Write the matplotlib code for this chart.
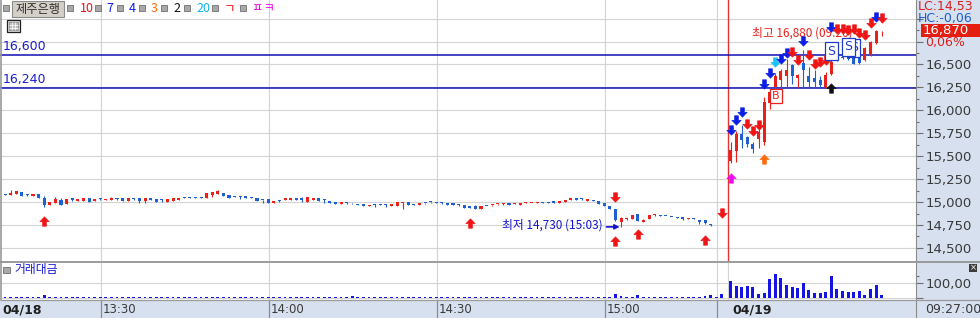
import numpy as np
import matplotlib.pyplot as plt
from matplotlib.path import Path
from matplotlib.patches import Rectangle
from matplotlib import font_manager
import matplotlib.transforms as mtransforms

# --- data (prices in won) ---

# 04/18, one-minute candles 13:13 .. 15:19, then the closing prints
d1_open = [15090, 15080, 15090, 15110, 15080, 15070, 15090, 15050, 14970, 14990,
           15020, 14980, 15040, 15010, 15010, 15040, 15010, 15030, 15020, 15020,
           15035, 15040, 15010, 15035, 15040, 15010, 15040, 15030, 15025, 15000,
           15010, 15020, 15045, 15055, 15060, 15050, 15040, 15080, 15090, 15100,
           15080, 15070, 15060, 15070, 15055, 15050, 15020, 15030, 14985, 15015,
           15020, 15020, 15050, 15050, 15005, 15020, 15040, 15030, 15015, 15005,
           14980, 14995, 14990, 14980, 14975, 14955, 14970, 14980, 14975, 14955,
           14960, 14990, 15005, 14980, 14970, 14990, 15000, 15000, 14995, 14990,
           14985, 14975, 14965, 14955, 14960, 14930, 14955, 14965, 14975, 14975,
           14985, 14980, 14970, 14995, 14990, 14985, 15000, 14995, 15010, 14995,
           15000, 15025, 15045, 15035, 15010, 15020, 15010, 14990, 14955, 14920,
           14780, 14815, 14820, 14870, 14780, 14820, 14860, 14855, 14850, 14840,
           14835, 14835, 14820, 14825, 14810, 14800, 14760, 14745, 14745]
d1_high = [15090, 15130, 15120, 15110, 15085, 15090, 15090, 15070, 15000, 15060,
           15040, 15030, 15040, 15030, 15040, 15040, 15030, 15045, 15030, 15055,
           15045, 15040, 15040, 15040, 15040, 15040, 15040, 15030, 15030, 15030,
           15040, 15050, 15060, 15060, 15060, 15060, 15100, 15110, 15130, 15100,
           15080, 15070, 15065, 15070, 15060, 15050, 15025, 15030, 15010, 15020,
           15045, 15040, 15050, 15060, 15060, 15050, 15040, 15035, 15015, 15005,
           15000, 15000, 14995, 14980, 14975, 14970, 14980, 14980, 14980, 14980,
           15005, 15005, 15005, 14980, 14990, 14995, 15000, 15000, 15000, 14990,
           14985, 14980, 14965, 14955, 14965, 14960, 14955, 14970, 14980, 14985,
           14985, 14985, 14990, 15000, 14995, 15000, 15000, 15000, 15010, 15010,
           15025, 15045, 15050, 15040, 15030, 15020, 15010, 14990, 14955, 14925,
           14840, 14830, 14860, 14870, 14815, 14855, 14875, 14860, 14852, 14842,
           14837, 14835, 14830, 14825, 14810, 14810, 14765, 14745, 14745]
d1_low = [15080, 15080, 15090, 15070, 15065, 15070, 15040, 14950, 14970, 14990,
          14970, 14980, 15010, 15010, 15010, 15000, 15010, 15025, 15020, 15020,
          15025, 15010, 15010, 15020, 14990, 14990, 15025, 15000, 15000, 15000,
          15010, 15020, 15040, 15040, 15040, 15045, 15040, 15060, 15090, 15070,
          15050, 15055, 15030, 15040, 15040, 15010, 14990, 14985, 14985, 15005,
          15020, 15020, 15020, 15000, 15005, 15020, 15010, 14995, 14995, 14975,
          14980, 14980, 14975, 14965, 14955, 14955, 14950, 14965, 14950, 14955,
          14960, 14930, 14965, 14965, 14970, 14980, 14985, 14985, 14980, 14965,
          14965, 14960, 14935, 14935, 14925, 14930, 14955, 14955, 14970, 14970,
          14965, 14975, 14970, 14990, 14985, 14985, 14985, 14990, 14990, 14995,
          15000, 15025, 15020, 15020, 15010, 15010, 14975, 14960, 14920, 14790,
          14730, 14800, 14820, 14790, 14780, 14820, 14845, 14850, 14845, 14835,
          14830, 14800, 14820, 14818, 14760, 14760, 14740, 14745, 14745]
d1_close = [15080, 15100, 15120, 15070, 15075, 15090, 15050, 14970, 15000, 15030,
            14970, 15030, 15020, 15030, 15040, 15000, 15030, 15030, 15030, 15040,
            15035, 15010, 15040, 15030, 15010, 15040, 15025, 15000, 15020, 15030,
            15040, 15050, 15045, 15050, 15040, 15050, 15100, 15110, 15120, 15070,
            15050, 15055, 15060, 15040, 15050, 15010, 15020, 14985, 15010, 15015,
            15045, 15040, 15020, 15020, 15060, 15050, 15010, 15025, 14995, 14975,
            15000, 14995, 14985, 14965, 14955, 14970, 14970, 14965, 14970, 14980,
            15005, 15005, 14965, 14965, 14990, 14990, 15000, 14985, 14990, 14965,
            14965, 14970, 14935, 14935, 14930, 14960, 14955, 14968, 14978, 14978,
            14965, 14983, 14990, 14998, 14993, 15000, 14985, 14993, 14990, 15010,
            15025, 15045, 15020, 15030, 15030, 15010, 14975, 14960, 14920, 14810,
            14830, 14820, 14855, 14795, 14810, 14855, 14865, 14850, 14847, 14837,
            14832, 14820, 14830, 14820, 14780, 14770, 14750, 14745, 14745]

# 04/19, one-minute candles 09:00 .. 09:27
d2_open = [15450, 15560, 15745, 15710, 15630, 15685, 15655, 16080, 16250, 16330,
           16370, 16490, 16350, 16520, 16370, 16350, 16330, 16250, 16400, 16600,
           16585, 16605, 16600, 16600, 16550, 16600, 16730, 16860]
d2_high = [15650, 15770, 15840, 15720, 15650, 15800, 16150, 16220, 16410, 16450,
           16560, 16510, 16400, 16660, 16470, 16440, 16370, 16420, 16660, 16620,
           16600, 16620, 16610, 16610, 16690, 16760, 16880, 16870]
d2_low = [15430, 15440, 15590, 15600, 15540, 15590, 15625, 16010, 16230, 16230,
          16250, 16290, 16260, 16260, 16240, 16250, 16240, 16240, 16390, 16540,
          16560, 16550, 16500, 16500, 16540, 16590, 16720, 16810]
d2_close = [15570, 15745, 15675, 15630, 15575, 15760, 16095, 16200, 16370, 16430,
            16440, 16370, 16385, 16440, 16310, 16310, 16280, 16390, 16530, 16560,
            16570, 16560, 16510, 16515, 16675, 16750, 16870, 16870]

# trading value (거래대금), panel units
d1_vol = [6, 6, 6, 6, 6, 6, 6, 20, 6, 6, 6, 6, 6, 6, 6, 6, 6, 6, 6, 6,
          6, 6, 6, 6, 6, 6, 6, 6, 6, 6, 6, 6, 6, 6, 6, 6, 6, 6, 6, 6,
          6, 6, 6, 6, 6, 6, 6, 6, 6, 6, 6, 6, 6, 6, 6, 6, 6, 6, 6, 6,
          6, 6, 13, 6, 6, 6, 6, 6, 6, 6, 6, 6, 6, 6, 6, 6, 6, 6, 6, 6,
          6, 6, 6, 6, 6, 6, 6, 6, 6, 6, 6, 6, 6, 6, 6, 6, 6, 6, 6, 6,
          6, 6, 6, 6, 6, 6, 6, 6, 6, 27, 13, 6, 6, 20, 6, 6, 6, 6, 6, 6,
          6, 6, 6, 6, 6, 13, 20, 6, 27]
d2_vol = [117, 82, 77, 82, 77, 29, 37, 129, 162, 133, 89, 73, 67, 100, 55, 37,
          33, 40, 149, 60, 49, 44, 44, 49, 22, 60, 89, 22]

# horizontal reference lines
ref_levels = [16600, 16240]

# signal arrows: global candle index (day 2 starts at 129), price at arrow centre
sig_bar = [7, 83, 109, 109, 113, 125, 128,
           129, 129, 130, 131, 132, 133, 134, 135, 135, 136, 137, 138, 139,
           140, 141, 142, 143, 144, 145, 146, 147, 147, 148, 149, 150, 151,
           152, 153, 154, 155, 156]
sig_price = [14794, 14767, 15056, 14576, 14647, 14592, 14881,
             15268, 15786, 15895, 15977, 15851, 15775, 15840, 15470, 16287,
             16407, 16527, 16565, 16625, 16631, 16549, 16751, 16604, 16505,
             16522, 16544, 16909, 16249, 16887, 16887, 16876, 16887, 16843,
             16822, 16947, 17023, 17012]
sig_dir = ['up', 'up', 'down', 'up', 'up', 'up', 'down',
           'up', 'down', 'down', 'down', 'down', 'down', 'down', 'up', 'down',
           'down', 'down', 'down', 'down', 'down', 'down', 'down', 'down',
           'down', 'down', 'down', 'down', 'up', 'down', 'down', 'down', 'down',
           'down', 'down', 'down', 'down', 'down']
sig_color = ['red', 'red', 'red', 'red', 'red', 'red', 'red',
             'magenta', 'blue', 'blue', 'blue', 'red', 'red', 'red', 'orange',
             'blue', 'blue', 'cyan', 'blue', 'blue', 'red', 'red', 'blue', 'red',
             'red', 'red', 'red', 'blue', 'black', 'red', 'red', 'red', 'red',
             'red', 'red', 'red', 'blue', 'red']

# "S" (sell) and "B" (buy) flags
s_bar = [151, 150, 147]
s_price = [16680, 16691, 16647]
b_bar = [136]
b_price = [16157]

time_ticks = [18, 48, 78, 108]
time_labels = ['13:30', '14:00', '14:30', '15:00']
close_tick = 128     # 15:20 on 04/18
day2_start = 130     # 09:00 on 04/19

# --- style ---
RED = '#E8221A'
BLUE = '#1E5FD2'
ARROW_COLORS = {'red': '#F01414', 'blue': '#0A1EE6', 'cyan': '#19C3F5',
                'magenta': '#F00AF0', 'orange': '#FF6A0A', 'black': '#101010'}
GRID = '#D4D4D4'
AXIS_BG = '#D6E0EE'
LINE_BLUE = '#1010B4'

plt.rcParams['font.family'] = ['Noto Sans CJK KR', 'DejaVu Sans']
available = {f.name for f in font_manager.fontManager.ttflist}
NUM_FONT = 'Liberation Sans Narrow' if 'Liberation Sans Narrow' in available else 'DejaVu Sans'

W, H = 980, 318
PX = 5.6  # pixels per minute


def rect(x0, y0, x1, y1):
    return [x0 / W, 1 - y1 / H, (x1 - x0) / W, (y1 - y0) / H]


fig = plt.figure(figsize=(W / 100, H / 100), dpi=100)
fig.patch.set_facecolor(AXIS_BG)

pos1 = np.arange(1, len(d1_open) + 1) - 0.1
pos2 = np.arange(len(d2_open)) + day2_start + 0.45
pos_all = np.concatenate([pos1, pos2])
xmax = 916 / PX

# --- price panel ---
ax = fig.add_axes(rect(0, 0, 916, 262))
ax.set_facecolor('white')
ax.set_xlim(0, xmax)
ax.set_ylim(14347, 17203)
for s in ['top', 'bottom', 'left']:
    ax.spines[s].set_visible(False)
ax.spines['right'].set_color('#8C8C8C')

major = np.arange(14500, 17001, 250)
ax.yaxis.tick_right()
ax.set_yticks(major)
ax.set_yticklabels([f'{v:,}' if v <= 16500 else '' for v in major])
ax.set_yticks(major[:-1] + 125, minor=True)
ax.tick_params(axis='y', which='major', length=5, width=0.8, color='#707070',
               pad=2, labelsize=9.5, labelcolor='#3A3A3A')
ax.tick_params(axis='y', which='minor', length=2.5, width=0.8, color='#707070')
for lab in ax.get_yticklabels():
    lab.set_family(NUM_FONT)
ax.set_xticks(time_ticks + [close_tick])
ax.tick_params(axis='x', length=0, labelbottom=False)
ax.grid(True, color=GRID, lw=0.8)
ax.set_axisbelow(True)
ax.axvline(day2_start, color='#E83030', lw=1.0, zorder=2)


def candles(a, pos, o, h, l, c, width=0.55):
    o, h, l, c = (np.asarray(v, float) for v in (o, h, l, c))
    col = np.where(c > o, RED, BLUE)
    a.vlines(pos, l, h, colors=col, lw=0.8, zorder=3)
    a.bar(pos, np.maximum(np.abs(c - o), 10), bottom=np.minimum(o, c),
          width=width, color=col, lw=0, zorder=3)


candles(ax, pos1, d1_open, d1_high, d1_low, d1_close)
candles(ax, pos2, d2_open, d2_high, d2_low, d2_close)

for lv in ref_levels:
    ax.axhline(lv, color=LINE_BLUE, lw=1.1, zorder=2)
    ax.annotate(f'{lv:,}', xy=(0, lv), xycoords=('axes fraction', 'data'),
                xytext=(2.2, 3.6), textcoords='offset points', ha='left',
                va='baseline', fontsize=9, color='#1C1CD0', family=NUM_FONT)

# signal arrows
down_verts = [(-0.42, 1), (0.42, 1), (0.42, 0.05), (1, 0.05), (0, -1),
              (-1, 0.05), (-0.42, 0.05), (-0.42, 1)]
ARROWS = {'down': Path(down_verts, closed=True),
          'up': Path([(x, -y) for x, y in down_verts], closed=True)}
for b, p, d, c in zip(sig_bar, sig_price, sig_dir, sig_color):
    ax.plot(pos_all[b], p, marker=ARROWS[d], ms=6.8, color=ARROW_COLORS[c],
            mec=ARROW_COLORS[c], mew=0.4, ls='none', zorder=6)

# flags
for b, p in zip(s_bar, s_price):
    ax.plot(pos_all[b], p - 78, marker='v', ms=5, mfc='white', mec='#1E3CC8',
            mew=0.8, ls='none', zorder=7)
    ax.text(pos_all[b], p, 'S', ha='center', va='center', fontsize=9,
            color='#1E3CC8', family='DejaVu Sans', zorder=8,
            bbox=dict(boxstyle='square,pad=0.2', fc='white', ec='#1E3CC8', lw=0.9))
for b, p in zip(b_bar, b_price):
    ax.annotate('B', xy=(pos_all[b], p), xytext=(1.5, 0), textcoords='offset points',
                ha='left', va='center', fontsize=8, color=RED, family='DejaVu Sans',
                zorder=8, bbox=dict(boxstyle='square,pad=0.2', fc='white', ec=RED, lw=0.9))

# day low / high labels
lo_i = int(np.argmin(d1_low))
lo = d1_low[lo_i]
ax.annotate(f'최저 {lo:,} (15:{lo_i - 107:02d})', xy=(pos1[lo_i], lo),
            xytext=(-13.5, 1), textcoords='offset points', ha='right', va='center',
            fontsize=8.5, color='#1414D2', zorder=5)
ax.annotate('', xy=(pos1[lo_i], lo), xytext=(-10.5, 0), textcoords='offset points',
            arrowprops=dict(arrowstyle='-|>', color='#1414D2', lw=1.2,
                            mutation_scale=7, shrinkA=0, shrinkB=1), zorder=5)
hi_i = int(np.argmax(d2_high))
hi = d2_high[hi_i]
ax.annotate(f'최고 {hi:,} (09:{hi_i:02d})', xy=(pos2[hi_i], hi),
            xytext=(-17, -2.2), textcoords='offset points', ha='right', va='center',
            fontsize=8.5, color=RED, zorder=4)

# current price tags on the right scale
last = d2_close[-1]
tr = mtransforms.blended_transform_factory(fig.transFigure, ax.transData)
ax.add_patch(Rectangle((921 / W, last - 71), 59 / W, 142, transform=tr,
                       fc='#E41E10', ec='none', clip_on=False, zorder=5))
ax.text(923 / W, last, f'{last:,}', transform=tr, ha='left', va='center',
        fontsize=9.5, color='white', family=NUM_FONT, clip_on=False, zorder=6)
lc = (last - lo) / lo * 100
hc = (last - hi) / hi * 100
for txt, dy, xx, col in [(f'LC:{lc:.2f}'.replace('.', ','), 17.1, 918, '#E01E1E'),
                         (f'HC:{hc:.2f}'.replace('.', ','), 9.0, 918, '#1E5FD2'),
                         ('0,06%', -8.3, 925, '#E01E1E')]:
    ax.annotate(txt, xy=(xx / W, last), xycoords=tr, xytext=(0, dy),
                textcoords='offset points', ha='left', va='center', fontsize=9,
                color=col, family=NUM_FONT, annotation_clip=False)

# --- trading value panel ---
axv = fig.add_axes(rect(0, 262, 916, 300))
axv.set_facecolor('white')
axv.set_xlim(0, xmax)
axv.set_ylim(-11.3, 242)
for s in ['top', 'bottom', 'left']:
    axv.spines[s].set_visible(False)
axv.spines['right'].set_color('#8C8C8C')
axv.yaxis.tick_right()
axv.set_yticks([0, 100])
axv.set_yticklabels(['', '100,00'])
axv.set_yticks([150], minor=True)
axv.tick_params(axis='y', which='major', length=5, width=0.8, color='#707070',
                pad=2, labelsize=9.5, labelcolor='#3A3A3A')
axv.tick_params(axis='y', which='minor', length=2.5, width=0.8, color='#707070')
for lab in axv.get_yticklabels():
    lab.set_family(NUM_FONT)
axv.set_xticks(time_ticks + [close_tick, day2_start])
axv.tick_params(axis='x', length=0, labelbottom=False)
axv.grid(True, color=GRID, lw=0.8)
axv.set_axisbelow(True)
axv.bar(pos1, d1_vol, width=0.5, color='#1414E6', lw=0)
axv.bar(pos2, d2_vol, width=0.55, color='#1414E6', lw=0)
axv.text(0.016, 0.8, '거래대금', transform=axv.transAxes, ha='left', va='center',
         fontsize=8.5, color='#1414D2')
axv.add_patch(Rectangle((0.0035, 0.72), 0.007, 0.15, transform=axv.transAxes,
                        fc='#A8A8A8', ec='#707070', lw=0.6))

# --- time axis ---
axt = fig.add_axes(rect(0, 300, 916, 318))
axt.set_facecolor(AXIS_BG)
axt.set_xlim(0, xmax)
axt.set_ylim(0, 1)
axt.set_xticks([])
axt.set_yticks([])
for s in ['top', 'bottom', 'left']:
    axt.spines[s].set_visible(False)
axt.spines['right'].set_color('#8C8C8C')
axt.vlines(time_ticks + [close_tick], 0, 1, color='#8C8C8C', lw=0.9)
for t, lab in zip(time_ticks, time_labels):
    axt.text(t + 0.35, 0.45, lab, ha='left', va='center', fontsize=8.5,
             color='#3A3A3A', family=NUM_FONT)
axt.text(0.5, 0.45, '04/18', ha='left', va='center', fontsize=9,
         fontweight='bold', color='#202020', family=NUM_FONT)
axt.text(day2_start + 0.8, 0.45, '04/19', ha='left', va='center', fontsize=9,
         fontweight='bold', color='#202020', family=NUM_FONT)
axt.text(1 + 9 / 916, 0.45, f'09:{len(d2_open) - 1:02d}:00', transform=axt.transAxes,
         ha='left', va='center', fontsize=9, color='#3A3A3A', family=NUM_FONT,
         clip_on=False)

# --- window chrome (pixel coordinates) ---
ui = fig.add_axes([0, 0, 1, 1])
ui.set_xlim(0, W)
ui.set_ylim(H, 0)
ui.axis('off')
ui.hlines([262], 0, W, color='#9A9A9A', lw=1.4)
ui.hlines([300], 0, W, color='#9A9A9A', lw=0.9)
ui.vlines([0.6], 0, 300, color='#9A9A9A', lw=1.2)

for sx in [6, 70, 98, 120, 142, 164, 187, 215, 243]:
    ui.add_patch(Rectangle((sx - 3, 5), 6, 6, fc='#A8A8A8', ec='#707070', lw=0.6))
ui.add_patch(Rectangle((12, 1), 52, 16, fc='#D4D0C8', ec='#8A8A8A', lw=0.8))
ui.text(38, 9, '제주은행', ha='center', va='center', fontsize=8.8, color='#303030')
for tx, s, c in [(80, '10', '#F01414'), (106, '7', '#0A1EE6'), (129, '4', '#0A1EE6'),
                 (151, '3', '#FF6A0A'), (173, '2', '#101010'), (196, '20', '#12B4F0'),
                 (224, 'ㄱ', '#F01414'), (252, 'ㅍㅋ', '#E60AE6')]:
    ui.text(tx, 9, s, ha='left', va='center', fontsize=9, color=c)

ui.add_patch(Rectangle((7, 20), 13, 12, fc='#E0E0E0', ec='#202020', lw=0.9))
ui.add_patch(Rectangle((9, 22), 9, 8, fc='#BDBDBD', ec='#808080', lw=0.5))
ui.vlines([12, 15], 22, 30, color='white', lw=0.5)
ui.hlines([25, 27.5], 9, 18, color='white', lw=0.5)

ui.add_patch(Rectangle((969, 264), 8, 8, fc='#3C3C3C', ec='none'))
ui.text(973, 268, '×', ha='center', va='center', fontsize=6, color='white',
        family='DejaVu Sans')

fig.savefig('out.png', dpi=100, facecolor=fig.get_facecolor())
